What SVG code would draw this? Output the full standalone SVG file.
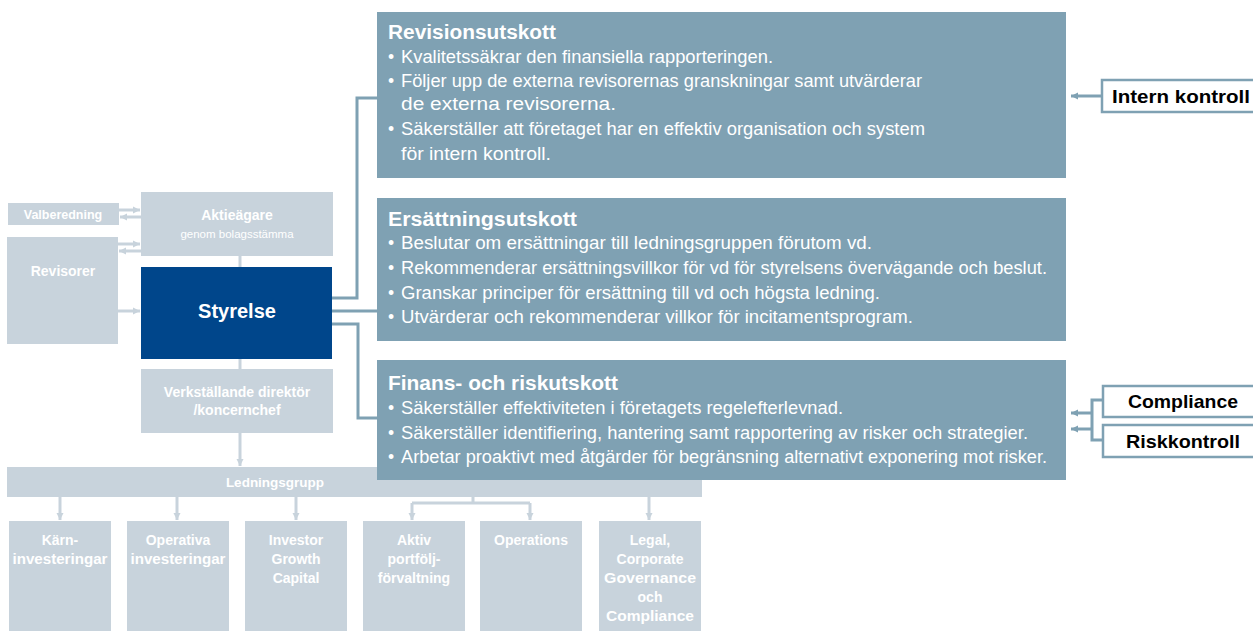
<svg xmlns="http://www.w3.org/2000/svg" width="1253" height="631" viewBox="0 0 1253 631">
<defs>
<marker id="ag" markerWidth="8" markerHeight="8" refX="7" refY="4" orient="auto" markerUnits="userSpaceOnUse"><path d="M0,0.5 L7,4 L0,7.5 Z" fill="#c8d3dc"/></marker>
<marker id="ab" markerWidth="8" markerHeight="8" refX="7" refY="4" orient="auto" markerUnits="userSpaceOnUse"><path d="M0,0.5 L7,4 L0,7.5 Z" fill="#7fa1b3"/></marker>
<style>
.g{fill:#c8d3dc}
.u{fill:#7fa1b3}
.w{fill:#fff;font-family:"Liberation Sans",Arial,sans-serif;font-weight:bold;text-anchor:middle}
.t{fill:#fff;font-family:"Liberation Sans",Arial,sans-serif;font-weight:bold;font-size:20px}
.b{fill:#fff;font-family:"Liberation Sans",Arial,sans-serif;font-size:17.5px}
.k{fill:#000;font-family:"Liberation Sans",Arial,sans-serif;font-weight:bold;font-size:19px;text-anchor:middle}
.cg{stroke:#c8d3dc;stroke-width:3;fill:none}
.cb{stroke:#7fa1b3;stroke-width:3;fill:none}
.bx{fill:#fff;stroke:#7fa1b3;stroke-width:2.5}
</style>
</defs>
<g id="connectors">
<path class="cg" d="M119,210 H140" marker-end="url(#ag)"/>
<path class="cg" d="M141,217 H120" marker-end="url(#ag)"/>
<path class="cg" d="M118,244 H140" marker-end="url(#ag)"/>
<path class="cg" d="M141,251 H119" marker-end="url(#ag)"/>
<path class="cg" d="M118,311 H140" marker-end="url(#ag)"/>
<path class="cg" d="M240,256 V267"/>
<path class="cg" d="M240,359 V369"/>
<path class="cg" d="M240,433 V466" marker-end="url(#ag)"/>
<path class="cg" d="M60,497 V520" marker-end="url(#ag)"/>
<path class="cg" d="M177,497 V520" marker-end="url(#ag)"/>
<path class="cg" d="M296,497 V520" marker-end="url(#ag)"/>
<path class="cg" d="M473,497 V503 M412,503 H530"/>
<path class="cg" d="M412,503 V520" marker-end="url(#ag)"/>
<path class="cg" d="M530,503 V520" marker-end="url(#ag)"/>
<path class="cg" d="M649,497 V520" marker-end="url(#ag)"/>
<path class="cb" d="M332,298 H357 V98 H377"/>
<path class="cb" d="M332,311 H377"/>
<path class="cb" d="M332,324 H358 V418 H377"/>
<path class="cb" d="M1102,96 H1071" marker-end="url(#ab)"/>
<path class="cb" d="M1103,400 H1092 V440 H1103"/>
<path class="cb" d="M1092,413 H1071" marker-end="url(#ab)"/>
<path class="cb" d="M1092,429 H1071" marker-end="url(#ab)"/>
</g>
<g id="valberedning"><rect class="g" x="8" y="203" width="111" height="22"/><text class="w" x="63" y="219" font-size="12.5">Valberedning</text></g>
<g id="revisorer"><rect class="g" x="7" y="237" width="111" height="107"/><text class="w" x="63" y="276" font-size="14">Revisorer</text></g>
<g id="aktieagare"><rect class="g" x="141" y="192" width="192" height="64"/><text class="w" x="237" y="220" font-size="14">Aktieägare</text><text class="w" x="237" y="238" font-size="11.5" style="font-weight:normal">genom bolagsstämma</text></g>
<g id="styrelse"><rect x="141" y="267" width="191" height="92" fill="#00468b"/><text class="w" x="237" y="318" font-size="20">Styrelse</text></g>
<g id="vd"><rect class="g" x="141" y="369" width="192" height="64"/><text class="w" x="237" y="397" font-size="14">Verkställande direktör</text><text class="w" x="237" y="415" font-size="14">/koncernchef</text></g>
<g id="ledningsgrupp"><rect class="g" x="7" y="467" width="695" height="30"/><text class="w" x="275" y="487" font-size="13.5">Ledningsgrupp</text></g>
<g id="karn"><rect class="g" x="9" y="521" width="102" height="110"/><text class="w" x="60" y="545" font-size="14">Kärn-</text><text class="w" x="60" y="564" font-size="14" textLength="95" lengthAdjust="spacingAndGlyphs">investeringar</text></g>
<g id="operativa"><rect class="g" x="127" y="521" width="102" height="110"/><text class="w" x="178" y="545" font-size="14">Operativa</text><text class="w" x="178" y="564" font-size="14" textLength="95" lengthAdjust="spacingAndGlyphs">investeringar</text></g>
<g id="igc"><rect class="g" x="245" y="521" width="102" height="110"/><text class="w" x="296" y="545" font-size="14">Investor</text><text class="w" x="296" y="564" font-size="14">Growth</text><text class="w" x="296" y="583" font-size="14">Capital</text></g>
<g id="aktiv"><rect class="g" x="363" y="521" width="102" height="110"/><text class="w" x="414" y="545" font-size="14">Aktiv</text><text class="w" x="414" y="564" font-size="14">portfölj-</text><text class="w" x="414" y="583" font-size="14">förvaltning</text></g>
<g id="operations"><rect class="g" x="480" y="521" width="102" height="110"/><text class="w" x="531" y="545" font-size="14">Operations</text></g>
<g id="legal"><rect class="g" x="599" y="521" width="102" height="110"/><text class="w" x="650" y="545" font-size="14">Legal,</text><text class="w" x="650" y="564" font-size="14">Corporate</text><text class="w" x="650" y="583" font-size="14" textLength="92" lengthAdjust="spacingAndGlyphs">Governance</text><text class="w" x="650" y="602" font-size="14">och</text><text class="w" x="650" y="621" font-size="14" textLength="88" lengthAdjust="spacingAndGlyphs">Compliance</text></g>
<g id="revisionsutskott"><rect class="u" x="377" y="12" width="689" height="166"/>
<text class="t" x="388" y="39" textLength="168" lengthAdjust="spacingAndGlyphs">Revisionsutskott</text>
<text class="b" x="388" y="63">•</text><text class="b" x="401" y="63" textLength="372" lengthAdjust="spacingAndGlyphs">Kvalitetssäkrar den finansiella rapporteringen.</text>
<text class="b" x="388" y="87">•</text><text class="b" x="401" y="87" textLength="521" lengthAdjust="spacingAndGlyphs">Följer upp de externa revisorernas granskningar samt utvärderar</text>
<text class="b" x="401" y="110" textLength="215" lengthAdjust="spacingAndGlyphs">de externa revisorerna.</text>
<text class="b" x="388" y="135">•</text><text class="b" x="401" y="135" textLength="524" lengthAdjust="spacingAndGlyphs">Säkerställer att företaget har en effektiv organisation och system</text>
<text class="b" x="401" y="160" textLength="150" lengthAdjust="spacingAndGlyphs">för intern kontroll.</text>
</g>
<g id="ersattningsutskott"><rect class="u" x="377" y="198" width="689" height="143"/>
<text class="t" x="388" y="226" textLength="189" lengthAdjust="spacingAndGlyphs">Ersättningsutskott</text>
<text class="b" x="388" y="249">•</text><text class="b" x="401" y="249" textLength="471" lengthAdjust="spacingAndGlyphs">Beslutar om ersättningar till ledningsgruppen förutom vd.</text>
<text class="b" x="388" y="274">•</text><text class="b" x="401" y="274" textLength="646" lengthAdjust="spacingAndGlyphs">Rekommenderar ersättningsvillkor för vd för styrelsens övervägande och beslut.</text>
<text class="b" x="388" y="299">•</text><text class="b" x="401" y="299" textLength="479" lengthAdjust="spacingAndGlyphs">Granskar principer för ersättning till vd och högsta ledning.</text>
<text class="b" x="388" y="323">•</text><text class="b" x="401" y="323" textLength="512" lengthAdjust="spacingAndGlyphs">Utvärderar och rekommenderar villkor för incitamentsprogram.</text>
</g>
<g id="finansutskott"><rect class="u" x="377" y="360" width="689" height="120"/>
<text class="t" x="388" y="390" textLength="230" lengthAdjust="spacingAndGlyphs">Finans- och riskutskott</text>
<text class="b" x="388" y="414">•</text><text class="b" x="401" y="414" textLength="442" lengthAdjust="spacingAndGlyphs">Säkerställer effektiviteten i företagets regelefterlevnad.</text>
<text class="b" x="388" y="439">•</text><text class="b" x="401" y="439" textLength="627" lengthAdjust="spacingAndGlyphs">Säkerställer identifiering, hantering samt rapportering av risker och strategier.</text>
<text class="b" x="388" y="463">•</text><text class="b" x="401" y="463" textLength="646" lengthAdjust="spacingAndGlyphs">Arbetar proaktivt med åtgärder för begränsning alternativt exponering mot risker.</text>
</g>
<g id="internkontroll"><rect class="bx" x="1102" y="80" width="160" height="32"/><text class="k" x="1181" y="103" textLength="138" lengthAdjust="spacingAndGlyphs">Intern kontroll</text></g>
<g id="compliance"><rect class="bx" x="1103" y="386" width="160" height="31"/><text class="k" x="1183" y="408" textLength="110" lengthAdjust="spacingAndGlyphs">Compliance</text></g>
<g id="riskkontroll"><rect class="bx" x="1103" y="425" width="160" height="32"/><text class="k" x="1183" y="448" textLength="114" lengthAdjust="spacingAndGlyphs">Riskkontroll</text></g>
</svg>
